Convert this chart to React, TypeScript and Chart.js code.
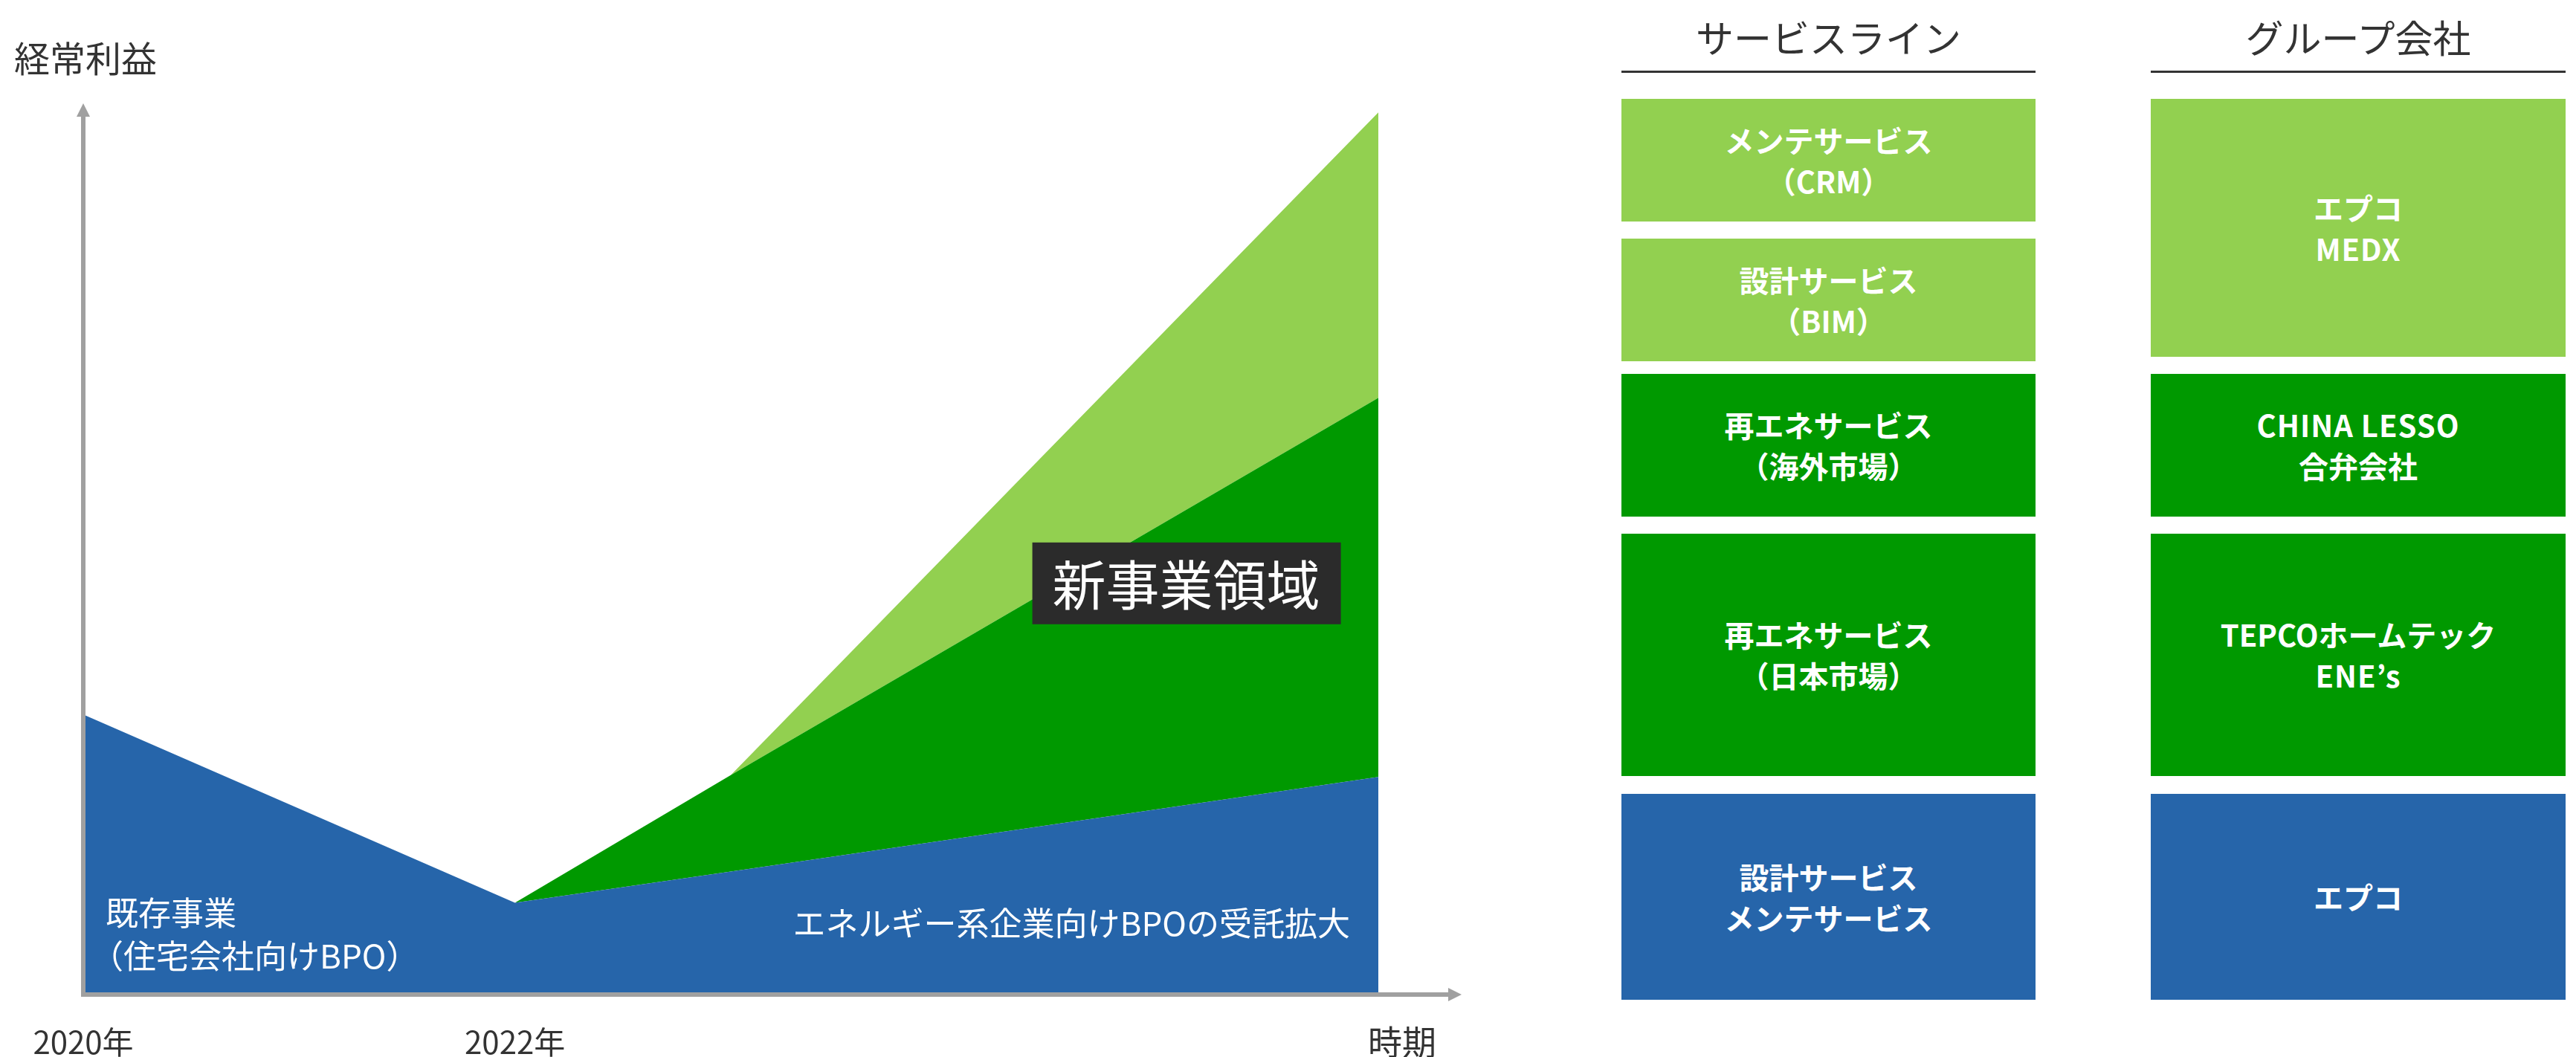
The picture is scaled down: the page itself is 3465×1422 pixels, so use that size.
import React, { useEffect, useRef } from "react";
import { Chart, registerables } from "chart.js";

Chart.register(...registerables);

// ---------- chart data ----------
const years = [2020, 2022, 2023, 2026];
const existingBusiness = [31.4, 10.3, 13.8, 24.4]; // 既存事業 / エネルギー系企業向けBPO
const newBusinessDark = [0, 0, 10.8, 42.5]; // 再エネサービス等
const newBusinessLight = [0, 0, 0, 32.0]; // 設計・メンテサービス等
const tickYears = [2020, 2022];
const yAxisTitle = "経常利益";
const xAxisTitle = "時期";
const newAreaLabel = "新事業領域";
const existingLabel = ["既存事業", "（住宅会社向けBPO）"];
const expansionLabel = "エネルギー系企業向けBPOの受託拡大";

// ---------- right panel data ----------
const serviceLineTitle = "サービスライン";
const groupTitle = "グループ会社";
const serviceLineLabels = [
  ["メンテサービス", "（CRM）"],
  ["設計サービス", "（BIM）"],
  ["再エネサービス", "（海外市場）"],
  ["再エネサービス", "（日本市場）"],
  ["設計サービス", "メンテサービス"],
];
const groupLabels = [
  ["エプコ", "MEDX"],
  ["CHINA LESSO", "合弁会社"],
  ["TEPCOホームテック", "ENE’s"],
  ["エプコ"],
];

// ---------- styles / layout ----------
const BLUE = "#2665AA";
const GREEN = "#009900";
const LIGHT = "#92D050";
const AXIS = "#A0A0A0";
const TEXT = "#333333";
const FONT = '"Noto Sans CJK JP", "Noto Sans", sans-serif';

const serviceLineColors = [LIGHT, LIGHT, GREEN, GREEN, BLUE];
const serviceLineRows = [
  [133, 298],
  [321, 486],
  [503, 695],
  [718, 1044],
  [1068, 1345],
];
const groupColors = [LIGHT, GREEN, GREEN, BLUE];
const groupRows = [
  [133, 480],
  [503, 695],
  [718, 1044],
  [1068, 1345],
];
const leftCol = { x: 2181, w: 557 };
const rightCol = { x: 2893, w: 558 };

const overlayPlugin = {
  id: "overlay",
  afterDatasetsDraw(chart: any) {
    const { ctx, scales } = chart;
    const xs = scales.x;
    const ys = scales.y;
    const x0 = xs.getPixelForValue(years[0]);
    const y0 = ys.getPixelForValue(0);
    const yTop = ys.getPixelForValue(100);
    const xEnd = xs.getPixelForValue(years[years.length - 1]);
    ctx.save();
    // axes
    ctx.strokeStyle = AXIS;
    ctx.fillStyle = AXIS;
    ctx.lineWidth = 6;
    ctx.beginPath();
    ctx.moveTo(x0, y0 + 3);
    ctx.lineTo(x0, yTop + 16);
    ctx.stroke();
    ctx.beginPath();
    ctx.moveTo(x0 - 9, yTop + 19);
    ctx.lineTo(x0, yTop + 1);
    ctx.lineTo(x0 + 9, yTop + 19);
    ctx.closePath();
    ctx.fill();
    ctx.beginPath();
    ctx.moveTo(x0 - 3, y0);
    ctx.lineTo(xEnd + 96, y0);
    ctx.stroke();
    ctx.beginPath();
    ctx.moveTo(xEnd + 94, y0 - 9);
    ctx.lineTo(xEnd + 112, y0);
    ctx.lineTo(xEnd + 94, y0 + 9);
    ctx.closePath();
    ctx.fill();

    // axis texts
    ctx.fillStyle = TEXT;
    ctx.textBaseline = "middle";
    ctx.font = `48px ${FONT}`;
    ctx.textAlign = "left";
    ctx.fillText(yAxisTitle, 19, 79);
    ctx.textAlign = "center";
    ctx.font = `42px ${FONT}`;
    tickYears.forEach((yr) => {
      ctx.fillText(`${yr}年`, xs.getPixelForValue(yr), y0 + 64);
    });
    ctx.font = `46px ${FONT}`;
    ctx.fillText(xAxisTitle, xEnd + 32, y0 + 64);

    // area labels
    ctx.fillStyle = "#FFFFFF";
    ctx.textAlign = "left";
    ctx.font = `44px ${FONT}`;
    ctx.fillText(existingLabel[0], x0 + 30, y0 - 110);
    ctx.fillText(existingLabel[1], x0 + 10, y0 - 52);
    ctx.textAlign = "right";
    ctx.fillText(expansionLabel, xEnd - 38, y0 - 96);

    // new business box
    const bx = xs.getPixelForValue(2025.11);
    const by = ys.getPixelForValue(46.1);
    ctx.fillStyle = "#2B2B2B";
    ctx.fillRect(bx - 207, by - 55, 415, 110);
    ctx.fillStyle = "#FFFFFF";
    ctx.textAlign = "center";
    ctx.font = `72px ${FONT}`;
    ctx.fillText(newAreaLabel, bx, by + 2);
    ctx.restore();
  },
};

function ChartPanel() {
  const ref = useRef<HTMLCanvasElement | null>(null);
  useEffect(() => {
    if (!ref.current) return;
    const mk = (vals: number[]) => years.map((x, i) => ({ x, y: vals[i] }));
    const chart = new Chart(ref.current, {
      type: "line",
      data: {
        datasets: [
          {
            label: "既存事業",
            data: mk(existingBusiness),
            backgroundColor: BLUE,
            borderWidth: 0,
            pointRadius: 0,
            fill: "origin",
            tension: 0,
          },
          {
            label: "新事業（再エネ）",
            data: mk(newBusinessDark),
            backgroundColor: GREEN,
            borderWidth: 0,
            pointRadius: 0,
            fill: "-1",
            tension: 0,
          },
          {
            label: "新事業（設計・メンテ）",
            data: mk(newBusinessLight),
            backgroundColor: LIGHT,
            borderWidth: 0,
            pointRadius: 0,
            fill: "-1",
            tension: 0,
          },
        ],
      },
      options: {
        responsive: false,
        animation: false,
        devicePixelRatio: 1,
        layout: { padding: { left: 112, right: 146, top: 138, bottom: 84 } },
        plugins: { legend: { display: false }, tooltip: { enabled: false } },
        scales: {
          x: { type: "linear", min: 2020, max: 2026, display: false },
          y: { stacked: true, min: 0, max: 100, display: false },
        },
      },
      plugins: [overlayPlugin],
    } as any);
    return () => chart.destroy();
  }, []);
  return <canvas ref={ref} width={2000} height={1422} style={{ position: "absolute", left: 0, top: 0 }} />;
}

function Column({ title, labels, colors, rows, col }: any) {
  return (
    <>
      <div
        style={{
          position: "absolute",
          left: col.x,
          top: 14,
          width: col.w,
          height: 70,
          lineHeight: "70px",
          textAlign: "center",
          fontSize: 51,
          color: TEXT,
          fontFamily: FONT,
          whiteSpace: "nowrap",
        }}
      >
        {title}
      </div>
      <div style={{ position: "absolute", left: col.x, top: 95, width: col.w, height: 3, background: TEXT }} />
      {labels.map((lines: string[], i: number) => (
        <div
          key={i}
          style={{
            position: "absolute",
            left: col.x,
            top: rows[i][0],
            width: col.w,
            height: rows[i][1] - rows[i][0],
            background: colors[i],
            display: "flex",
            flexDirection: "column",
            alignItems: "center",
            justifyContent: "center",
            color: "#FFFFFF",
            fontWeight: 700,
            fontSize: 40,
            lineHeight: "55px",
            fontFamily: FONT,
            whiteSpace: "nowrap",
          }}
        >
          {lines.map((t, j) => (
            <div key={j} style={/^[A-Z’'s ]+$/.test(t) ? { letterSpacing: 1 } : undefined}>
              {t}
            </div>
          ))}
        </div>
      ))}
    </>
  );
}

export default function App() {
  return (
    <div style={{ position: "absolute", left: 0, top: 0, width: 3465, height: 1422, background: "#FFFFFF", overflow: "hidden" }}>
      <ChartPanel />
      <Column title={serviceLineTitle} labels={serviceLineLabels} colors={serviceLineColors} rows={serviceLineRows} col={leftCol} />
      <Column title={groupTitle} labels={groupLabels} colors={groupColors} rows={groupRows} col={rightCol} />
    </div>
  );
}
